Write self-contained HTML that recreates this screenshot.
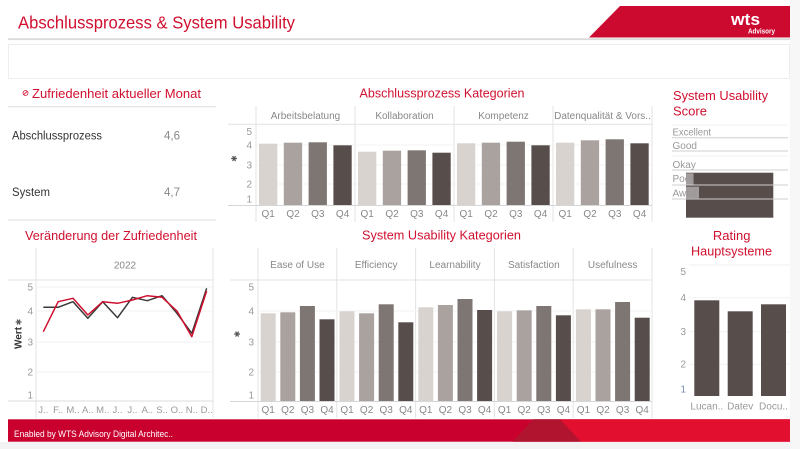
<!DOCTYPE html>
<html><head><meta charset="utf-8">
<style>
html,body{margin:0;padding:0;background:#fff;}
svg{display:block;}
text{font-family:"Liberation Sans",sans-serif;}
</style></head>
<body>
<svg width="800" height="449" viewBox="0 0 800 449" xmlns="http://www.w3.org/2000/svg">
<rect x="0" y="0" width="800" height="449" fill="#fff"/>
<rect x="0" y="442" width="800" height="7" fill="#f3f3f3"/>
<rect x="790" y="0" width="10" height="449" fill="#f7f7f7"/>

<!-- Header -->
<text x="18" y="28.5" font-size="17.5" fill="#d0102f" textLength="277" lengthAdjust="spacingAndGlyphs">Abschlussprozess &amp; System Usability</text>
<polygon points="620,6 790,6 790,37.5 589,37.5" fill="#cc0a30"/>
<text x="731" y="25" font-size="17" font-weight="bold" fill="#fff" textLength="29" lengthAdjust="spacingAndGlyphs">wts</text>
<text x="748" y="33.5" font-size="7" font-weight="bold" fill="#fff" textLength="27" lengthAdjust="spacingAndGlyphs">Advisory</text>
<rect x="8" y="38.3" width="782" height="1.8" fill="#dadada"/>
<rect x="8.5" y="44.5" width="781" height="34" fill="#fff" stroke="#eeeeee" stroke-width="1"/>

<!-- Left top panel -->
<circle cx="25.5" cy="93" r="2.5" fill="none" stroke="#d0102f" stroke-width="0.8"/>
<line x1="23.7" y1="94.8" x2="27.3" y2="91.2" stroke="#d0102f" stroke-width="0.8"/>
<text x="32" y="98" font-size="13" fill="#d0102f" textLength="169" lengthAdjust="spacingAndGlyphs">Zufriedenheit aktueller Monat</text>
<line x1="8" y1="106.7" x2="216" y2="106.7" stroke="#dcdcdc" stroke-width="1"/>
<text x="12" y="139.5" font-size="11.5" fill="#333" textLength="90" lengthAdjust="spacingAndGlyphs">Abschlussprozess</text>
<text x="164" y="139.5" font-size="11.5" fill="#888">4,6</text>
<text x="12" y="196" font-size="11.5" fill="#333" textLength="38" lengthAdjust="spacingAndGlyphs">System</text>
<text x="164" y="196" font-size="11.5" fill="#888">4,7</text>
<line x1="8" y1="220" x2="216" y2="220" stroke="#dcdcdc" stroke-width="1"/>

<!-- Line chart -->
<text x="25" y="240" font-size="13" fill="#d0102f" textLength="172" lengthAdjust="spacingAndGlyphs">Veränderung der Zufriedenheit</text>
<line x1="36" y1="248" x2="36" y2="418" stroke="#e3e3e3"/>
<line x1="213" y1="248" x2="213" y2="418" stroke="#e3e3e3"/>
<line x1="8" y1="280" x2="213" y2="280" stroke="#e3e3e3"/>
<text x="125" y="268.5" font-size="10" fill="#888" text-anchor="middle">2022</text>
<g stroke="#f2f2f2" stroke-width="1">
<line x1="36" y1="287" x2="213" y2="287"/><line x1="36" y1="311" x2="213" y2="311"/>
<line x1="36" y1="342" x2="213" y2="342"/><line x1="36" y1="372" x2="213" y2="372"/>
</g>
<line x1="8" y1="401" x2="213" y2="401" stroke="#dcdcdc"/>
<g font-size="10" fill="#999" text-anchor="end">
<text x="33" y="290.5">5</text><text x="33" y="314.5">4</text><text x="33" y="345.5">3</text><text x="33" y="375.5">2</text><text x="33" y="398.5">1</text>
</g>
<text transform="translate(21.5,338) rotate(-90)" font-size="10" font-weight="bold" fill="#333" text-anchor="middle">Wert</text>
<text transform="translate(21.5,322) rotate(-90)" font-size="8" fill="#555" text-anchor="middle">✱</text>
<polyline fill="none" stroke="#3a3a3a" stroke-width="1.5" stroke-linejoin="round" points="43.3,307.3 58.15,307.3 73,301.7 87.85,318.3 102.7,301.7 117.55,317.7 132.4,297.3 147.25,300.7 162.1,295.7 176.95,313.3 191.8,333.3 206.65,288.3"/>
<polyline fill="none" stroke="#d0102f" stroke-width="1.5" stroke-linejoin="round" points="43.3,331.7 58.15,301.7 73,298.3 87.85,315 102.7,301.7 117.55,303.3 132.4,300 147.25,295.7 162.1,297.3 176.95,311 191.8,336.7 206.65,291"/>
<g font-size="9.5" fill="#999" text-anchor="middle">
<text x="43.3" y="413">J..</text><text x="58.15" y="413">F..</text><text x="73" y="413">M..</text><text x="87.85" y="413">A..</text><text x="102.7" y="413">M..</text><text x="117.55" y="413">J..</text><text x="132.4" y="413">J..</text><text x="147.25" y="413">A..</text><text x="162.1" y="413">S..</text><text x="176.95" y="413">O..</text><text x="191.8" y="413">N..</text><text x="206.65" y="413">D..</text>
</g>

<!-- Abschlussprozess Kategorien -->
<text x="442" y="97.5" font-size="13" fill="#d0102f" text-anchor="middle" textLength="165" lengthAdjust="spacingAndGlyphs">Abschlussprozess Kategorien</text>
<g stroke="#e3e3e3">
<line x1="256" y1="106" x2="256" y2="222"/><line x1="355" y1="106" x2="355" y2="222"/><line x1="454" y1="106" x2="454" y2="222"/><line x1="553" y1="106" x2="553" y2="222"/><line x1="652" y1="106" x2="652" y2="222"/>
<line x1="228" y1="124.3" x2="652" y2="124.3"/>
</g>
<g stroke="#f3f3f3"><line x1="256" y1="145" x2="652" y2="145"/><line x1="256" y1="165" x2="652" y2="165"/><line x1="256" y1="184" x2="652" y2="184"/></g>
<g font-size="10" fill="#888" text-anchor="middle">
<text x="305.5" y="119">Arbeitsbelatung</text><text x="404.5" y="119">Kollaboration</text><text x="503.5" y="119">Kompetenz</text><text x="602.5" y="119">Datenqualität &amp; Vors..</text>
</g>
<g font-size="10" fill="#999" text-anchor="end">
<text x="252" y="135">5</text><text x="252" y="148.5">4</text><text x="252" y="168.5">3</text><text x="252" y="187.5">2</text><text x="252" y="202.5">1</text>
</g>
<text transform="translate(237,158.5) rotate(-90)" font-size="8" fill="#555" text-anchor="middle">✱</text>
<g>
<rect x="259" y="143.7" width="18.3" height="61.3" fill="#d9d3d0"/>
<rect x="283.8" y="142.7" width="18.3" height="62.3" fill="#aaa29f"/>
<rect x="308.6" y="142.3" width="18.3" height="62.7" fill="#7e7673"/>
<rect x="333.4" y="145.3" width="18.3" height="59.7" fill="#574e4b"/>
<rect x="358" y="151.7" width="18.3" height="53.3" fill="#d9d3d0"/>
<rect x="382.8" y="150.7" width="18.3" height="54.3" fill="#aaa29f"/>
<rect x="407.6" y="150.3" width="18.3" height="54.7" fill="#7e7673"/>
<rect x="432.4" y="152.7" width="18.3" height="52.3" fill="#574e4b"/>
<rect x="457" y="143.3" width="18.3" height="61.7" fill="#d9d3d0"/>
<rect x="481.8" y="142.7" width="18.3" height="62.3" fill="#aaa29f"/>
<rect x="506.6" y="141.7" width="18.3" height="63.3" fill="#7e7673"/>
<rect x="531.4" y="145.3" width="18.3" height="59.7" fill="#574e4b"/>
<rect x="556" y="142.7" width="18.3" height="62.3" fill="#d9d3d0"/>
<rect x="580.8" y="140.3" width="18.3" height="64.7" fill="#aaa29f"/>
<rect x="605.6" y="139.3" width="18.3" height="65.7" fill="#7e7673"/>
<rect x="630.4" y="143.3" width="18.3" height="61.7" fill="#574e4b"/>
</g>
<line x1="228" y1="205.5" x2="652" y2="205.5" stroke="#d6d6d6"/>
<g font-size="10" fill="#888" text-anchor="middle">
<text x="268.2" y="217">Q1</text><text x="293" y="217">Q2</text><text x="317.8" y="217">Q3</text><text x="342.6" y="217">Q4</text>
<text x="367.2" y="217">Q1</text><text x="392" y="217">Q2</text><text x="416.8" y="217">Q3</text><text x="441.6" y="217">Q4</text>
<text x="466.2" y="217">Q1</text><text x="491" y="217">Q2</text><text x="515.8" y="217">Q3</text><text x="540.6" y="217">Q4</text>
<text x="565.2" y="217">Q1</text><text x="590" y="217">Q2</text><text x="614.8" y="217">Q3</text><text x="639.6" y="217">Q4</text>
</g>

<!-- System Usability Kategorien -->
<text x="441.5" y="239.5" font-size="13" fill="#d0102f" text-anchor="middle" textLength="159" lengthAdjust="spacingAndGlyphs">System Usability Kategorien</text>
<g stroke="#e3e3e3">
<line x1="258" y1="248" x2="258" y2="418"/><line x1="336.8" y1="248" x2="336.8" y2="418"/><line x1="415.6" y1="248" x2="415.6" y2="418"/><line x1="494.4" y1="248" x2="494.4" y2="418"/><line x1="573.2" y1="248" x2="573.2" y2="418"/><line x1="652" y1="248" x2="652" y2="418"/>
<line x1="230" y1="280" x2="652" y2="280"/>
</g>
<g stroke="#f3f3f3"><line x1="258" y1="311" x2="652" y2="311"/><line x1="258" y1="342" x2="652" y2="342"/><line x1="258" y1="372" x2="652" y2="372"/></g>
<g font-size="10" fill="#888" text-anchor="middle">
<text x="297.4" y="268">Ease of Use</text><text x="376.2" y="268">Efficiency</text><text x="455" y="268">Learnability</text><text x="533.8" y="268">Satisfaction</text><text x="612.6" y="268">Usefulness</text>
</g>
<g font-size="10" fill="#999" text-anchor="end">
<text x="254" y="290.5">5</text><text x="254" y="314.5">4</text><text x="254" y="345.5">3</text><text x="254" y="375.5">2</text><text x="254" y="398.5">1</text>
</g>
<text transform="translate(240,334) rotate(-90)" font-size="8" fill="#555" text-anchor="middle">✱</text>
<g>
<rect x="260.7" y="313.3" width="15" height="87.7" fill="#d9d3d0"/>
<rect x="280.3" y="312.3" width="15" height="88.7" fill="#aaa29f"/>
<rect x="299.9" y="306" width="15" height="95" fill="#7e7673"/>
<rect x="319.5" y="319.3" width="15" height="81.7" fill="#574e4b"/>
<rect x="339.5" y="311.3" width="15" height="89.7" fill="#d9d3d0"/>
<rect x="359.1" y="313.3" width="15" height="87.7" fill="#aaa29f"/>
<rect x="378.7" y="304.3" width="15" height="96.7" fill="#7e7673"/>
<rect x="398.3" y="322.3" width="15" height="78.7" fill="#574e4b"/>
<rect x="418.3" y="307.3" width="15" height="93.7" fill="#d9d3d0"/>
<rect x="437.9" y="305" width="15" height="96" fill="#aaa29f"/>
<rect x="457.5" y="299" width="15" height="102" fill="#7e7673"/>
<rect x="477.1" y="310" width="15" height="91" fill="#574e4b"/>
<rect x="497.1" y="311.3" width="15" height="89.7" fill="#d9d3d0"/>
<rect x="516.7" y="310.3" width="15" height="90.7" fill="#aaa29f"/>
<rect x="536.3" y="306" width="15" height="95" fill="#7e7673"/>
<rect x="555.9" y="315.3" width="15" height="85.7" fill="#574e4b"/>
<rect x="575.9" y="309.3" width="15" height="91.7" fill="#d9d3d0"/>
<rect x="595.5" y="309.3" width="15" height="91.7" fill="#aaa29f"/>
<rect x="615.1" y="302" width="15" height="99" fill="#7e7673"/>
<rect x="634.7" y="317.7" width="15" height="83.3" fill="#574e4b"/>
</g>
<line x1="230" y1="401.5" x2="652" y2="401.5" stroke="#d6d6d6"/>
<g font-size="10" fill="#888" text-anchor="middle">
<text x="268.2" y="413">Q1</text><text x="287.8" y="413">Q2</text><text x="307.4" y="413">Q3</text><text x="327" y="413">Q4</text>
<text x="347" y="413">Q1</text><text x="366.6" y="413">Q2</text><text x="386.2" y="413">Q3</text><text x="405.8" y="413">Q4</text>
<text x="425.8" y="413">Q1</text><text x="445.4" y="413">Q2</text><text x="465" y="413">Q3</text><text x="484.6" y="413">Q4</text>
<text x="504.6" y="413">Q1</text><text x="524.2" y="413">Q2</text><text x="543.8" y="413">Q3</text><text x="563.4" y="413">Q4</text>
<text x="583.4" y="413">Q1</text><text x="603" y="413">Q2</text><text x="622.6" y="413">Q3</text><text x="642.2" y="413">Q4</text>
</g>

<!-- System Usability Score -->
<text x="673" y="100" font-size="13" fill="#d0102f" textLength="95" lengthAdjust="spacingAndGlyphs">System Usability</text>
<text x="673" y="115.7" font-size="13" fill="#d0102f">Score</text>
<line x1="672" y1="125" x2="788" y2="125" stroke="#f0f0f0"/>
<line x1="672" y1="156" x2="788" y2="156" stroke="#f0f0f0"/>
<rect x="686" y="172.7" width="87.3" height="45" fill="#574e4b"/>
<rect x="686" y="173.3" width="7.5" height="11.7" fill="#ffffff" fill-opacity="0.45"/>
<rect x="686" y="186.7" width="13" height="11.6" fill="#ffffff" fill-opacity="0.45"/>
<g stroke="#cfcfcf" stroke-width="1">
<line x1="672" y1="137.7" x2="788" y2="137.7"/><line x1="672" y1="151" x2="788" y2="151"/><line x1="672" y1="170" x2="788" y2="170"/><line x1="672" y1="185" x2="788" y2="185"/><line x1="672" y1="199" x2="788" y2="199"/>
</g>
<g font-size="10" fill="#999">
<text x="672.5" y="135.5" textLength="38.5" lengthAdjust="spacingAndGlyphs">Excellent</text>
<text x="672.5" y="148.8">Good</text>
<text x="672.5" y="167.8">Okay</text>
<text x="672.5" y="182">Poor</text>
<text x="672.5" y="196.3">Awful</text>
</g>

<!-- Rating Hauptsysteme -->
<text x="731.7" y="240" font-size="13" fill="#d0102f" text-anchor="middle">Rating</text>
<text x="731.5" y="255.7" font-size="13" fill="#d0102f" text-anchor="middle" textLength="81" lengthAdjust="spacingAndGlyphs">Hauptsysteme</text>
<g stroke="#f2f2f2"><line x1="689" y1="265" x2="790" y2="265"/><line x1="689" y1="297.7" x2="790" y2="297.7"/><line x1="689" y1="331.7" x2="790" y2="331.7"/><line x1="689" y1="364.3" x2="790" y2="364.3"/></g>
<g font-size="10" fill="#999" text-anchor="end">
<text x="686" y="275">5</text><text x="686" y="301">4</text><text x="686" y="335">3</text><text x="686" y="367.5">2</text><text x="686" y="392.5" fill="#7a8fb0">1</text>
</g>
<rect x="694.3" y="300.3" width="25" height="95.7" fill="#574e4b"/>
<rect x="727.7" y="311.3" width="25" height="84.7" fill="#574e4b"/>
<rect x="761" y="304.3" width="25" height="91.7" fill="#574e4b"/>
<g font-size="10" fill="#999" text-anchor="middle">
<text x="706.8" y="409.5">Lucan..</text><text x="740.2" y="409.5">Datev</text><text x="773.5" y="409.5">Docu..</text>
</g>

<!-- Footer -->
<rect x="8" y="419.3" width="782" height="22.4" fill="#c9002e"/>
<polygon points="560,419.3 790,419.3 790,441.7 580.6,441.7" fill="#e20f2e"/>
<polygon points="533,419.3 560,419.3 580.6,441.7 512.8,441.7" fill="#b0142e"/>
<text x="14" y="437" font-size="9" fill="#fff" textLength="159" lengthAdjust="spacingAndGlyphs">Enabled by WTS Advisory Digital Architec..</text>
</svg>
</body></html>
